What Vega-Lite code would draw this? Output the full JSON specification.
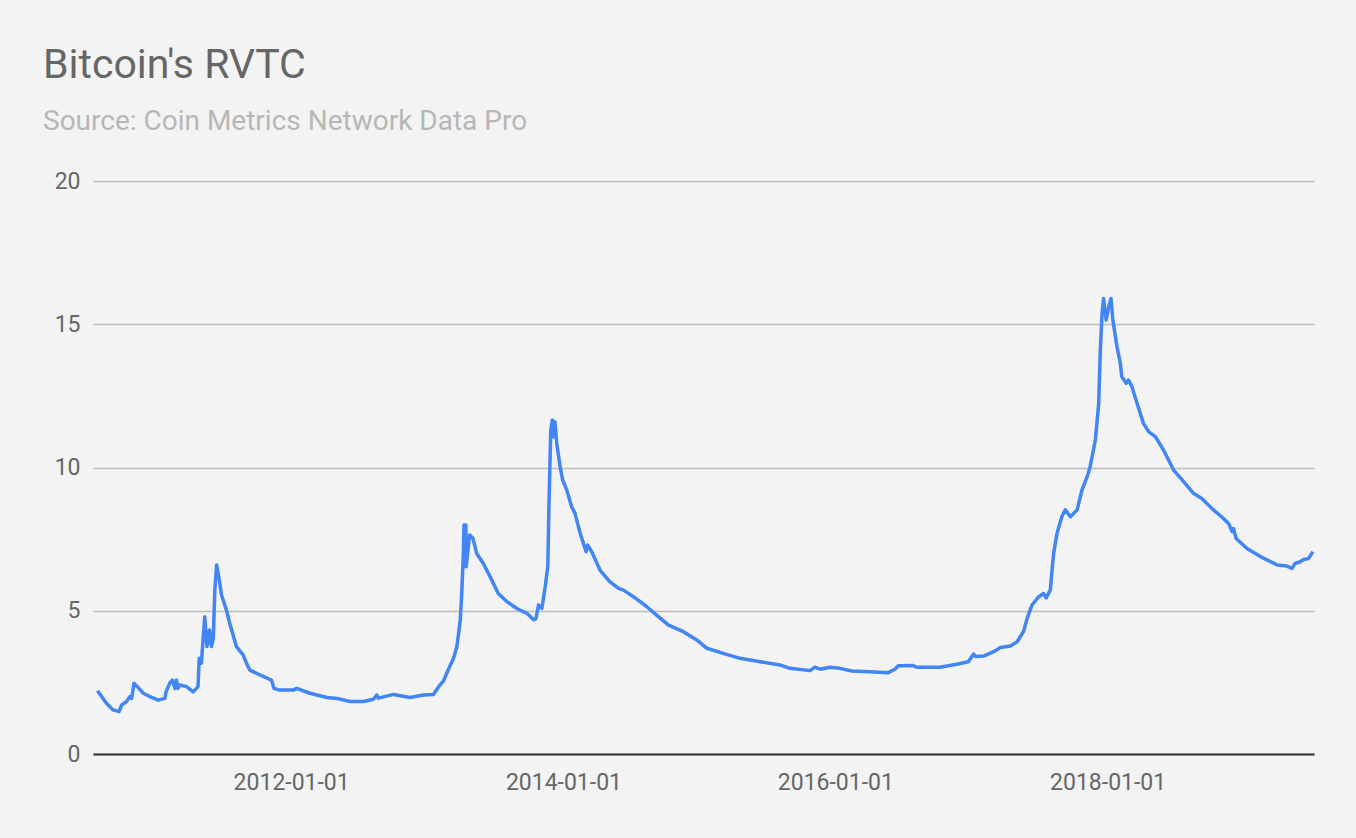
{
  "$schema": "https://vega.github.io/schema/vega-lite/v6.json",
  "autosize": "none",
  "width": 1221,
  "height": 573,
  "padding": {"left": 93, "top": 181, "right": 42, "bottom": 84},
  "background": "#f3f3f3",
  "config": {
    "view": {"stroke": null},
    "font": "Roboto"
  },
  "title": {
    "text": "Bitcoin's RVTC",
    "subtitle": "Source: Coin Metrics Network Data Pro",
    "anchor": "start",
    "frame": "group",
    "dx": -50,
    "offset": 33,
    "font": "Roboto",
    "fontSize": 41,
    "fontWeight": "normal",
    "color": "#666666",
    "subtitleFont": "Roboto",
    "subtitleFontSize": 28,
    "subtitleColor": "#b7b7b7",
    "subtitlePadding": 21
  },
  "data": {
    "values": [
      {"date": "2010-07-30", "rvtc": 2.21},
      {"date": "2010-08-23", "rvtc": 1.77},
      {"date": "2010-09-10", "rvtc": 1.54},
      {"date": "2010-09-26", "rvtc": 1.48},
      {"date": "2010-10-03", "rvtc": 1.71},
      {"date": "2010-10-16", "rvtc": 1.83},
      {"date": "2010-10-25", "rvtc": 2.0},
      {"date": "2010-10-30", "rvtc": 1.94},
      {"date": "2010-11-05", "rvtc": 2.47},
      {"date": "2010-11-14", "rvtc": 2.35},
      {"date": "2010-11-30", "rvtc": 2.12},
      {"date": "2010-12-18", "rvtc": 2.0},
      {"date": "2011-01-09", "rvtc": 1.88},
      {"date": "2011-01-27", "rvtc": 1.94},
      {"date": "2011-01-30", "rvtc": 2.17},
      {"date": "2011-02-09", "rvtc": 2.47},
      {"date": "2011-02-16", "rvtc": 2.58},
      {"date": "2011-02-23", "rvtc": 2.29},
      {"date": "2011-02-27", "rvtc": 2.58},
      {"date": "2011-03-03", "rvtc": 2.29},
      {"date": "2011-03-08", "rvtc": 2.41},
      {"date": "2011-03-26", "rvtc": 2.35},
      {"date": "2011-04-13", "rvtc": 2.17},
      {"date": "2011-04-26", "rvtc": 2.35},
      {"date": "2011-04-29", "rvtc": 3.34},
      {"date": "2011-05-05", "rvtc": 3.17},
      {"date": "2011-05-14", "rvtc": 4.79},
      {"date": "2011-05-20", "rvtc": 3.75},
      {"date": "2011-05-27", "rvtc": 4.33},
      {"date": "2011-06-01", "rvtc": 3.75},
      {"date": "2011-06-06", "rvtc": 4.04},
      {"date": "2011-06-10", "rvtc": 5.72},
      {"date": "2011-06-15", "rvtc": 6.6},
      {"date": "2011-06-22", "rvtc": 6.07},
      {"date": "2011-06-28", "rvtc": 5.55},
      {"date": "2011-07-11", "rvtc": 5.03},
      {"date": "2011-07-20", "rvtc": 4.56},
      {"date": "2011-08-07", "rvtc": 3.75},
      {"date": "2011-08-25", "rvtc": 3.46},
      {"date": "2011-09-03", "rvtc": 3.17},
      {"date": "2011-09-12", "rvtc": 2.93},
      {"date": "2011-10-09", "rvtc": 2.76},
      {"date": "2011-11-09", "rvtc": 2.58},
      {"date": "2011-11-16", "rvtc": 2.29},
      {"date": "2011-12-01", "rvtc": 2.23},
      {"date": "2012-01-07", "rvtc": 2.23},
      {"date": "2012-01-16", "rvtc": 2.29},
      {"date": "2012-02-20", "rvtc": 2.12},
      {"date": "2012-04-06", "rvtc": 1.97},
      {"date": "2012-05-03", "rvtc": 1.94},
      {"date": "2012-06-07", "rvtc": 1.83},
      {"date": "2012-07-13", "rvtc": 1.83},
      {"date": "2012-08-09", "rvtc": 1.91},
      {"date": "2012-08-18", "rvtc": 2.06},
      {"date": "2012-08-22", "rvtc": 1.95},
      {"date": "2012-10-02", "rvtc": 2.08},
      {"date": "2012-11-15", "rvtc": 1.97},
      {"date": "2012-12-21", "rvtc": 2.06},
      {"date": "2013-01-17", "rvtc": 2.08},
      {"date": "2013-01-31", "rvtc": 2.35},
      {"date": "2013-02-13", "rvtc": 2.55},
      {"date": "2013-02-26", "rvtc": 2.95},
      {"date": "2013-03-12", "rvtc": 3.34},
      {"date": "2013-03-21", "rvtc": 3.75},
      {"date": "2013-03-30", "rvtc": 4.68},
      {"date": "2013-04-03", "rvtc": 5.6},
      {"date": "2013-04-07", "rvtc": 6.89},
      {"date": "2013-04-09", "rvtc": 7.99},
      {"date": "2013-04-14", "rvtc": 7.99},
      {"date": "2013-04-15", "rvtc": 6.54},
      {"date": "2013-04-24", "rvtc": 7.64},
      {"date": "2013-05-03", "rvtc": 7.53},
      {"date": "2013-05-13", "rvtc": 7.0},
      {"date": "2013-05-31", "rvtc": 6.65},
      {"date": "2013-06-18", "rvtc": 6.19},
      {"date": "2013-07-10", "rvtc": 5.6},
      {"date": "2013-08-02", "rvtc": 5.32},
      {"date": "2013-08-29", "rvtc": 5.08},
      {"date": "2013-09-25", "rvtc": 4.91},
      {"date": "2013-10-12", "rvtc": 4.69},
      {"date": "2013-10-19", "rvtc": 4.72},
      {"date": "2013-10-26", "rvtc": 5.2},
      {"date": "2013-11-04", "rvtc": 5.08},
      {"date": "2013-11-13", "rvtc": 5.84},
      {"date": "2013-11-20", "rvtc": 6.54},
      {"date": "2013-11-23", "rvtc": 8.63},
      {"date": "2013-11-28", "rvtc": 11.31},
      {"date": "2013-12-02", "rvtc": 11.66},
      {"date": "2013-12-05", "rvtc": 11.07},
      {"date": "2013-12-09", "rvtc": 11.6},
      {"date": "2013-12-14", "rvtc": 10.84},
      {"date": "2013-12-23", "rvtc": 10.03},
      {"date": "2013-12-30", "rvtc": 9.56},
      {"date": "2014-01-10", "rvtc": 9.21},
      {"date": "2014-01-23", "rvtc": 8.63},
      {"date": "2014-02-01", "rvtc": 8.4},
      {"date": "2014-02-15", "rvtc": 7.7},
      {"date": "2014-03-03", "rvtc": 7.06},
      {"date": "2014-03-07", "rvtc": 7.29},
      {"date": "2014-03-18", "rvtc": 7.06},
      {"date": "2014-04-09", "rvtc": 6.42},
      {"date": "2014-05-06", "rvtc": 6.01},
      {"date": "2014-05-29", "rvtc": 5.78},
      {"date": "2014-06-11", "rvtc": 5.72},
      {"date": "2014-07-08", "rvtc": 5.49},
      {"date": "2014-08-13", "rvtc": 5.14},
      {"date": "2014-09-08", "rvtc": 4.85},
      {"date": "2014-10-10", "rvtc": 4.5},
      {"date": "2014-11-19", "rvtc": 4.27},
      {"date": "2014-12-25", "rvtc": 3.98},
      {"date": "2015-01-21", "rvtc": 3.69},
      {"date": "2015-03-06", "rvtc": 3.51},
      {"date": "2015-04-20", "rvtc": 3.34},
      {"date": "2015-06-13", "rvtc": 3.22},
      {"date": "2015-08-05", "rvtc": 3.11},
      {"date": "2015-09-01", "rvtc": 2.99},
      {"date": "2015-10-25", "rvtc": 2.91},
      {"date": "2015-11-07", "rvtc": 3.03},
      {"date": "2015-11-21", "rvtc": 2.96},
      {"date": "2015-12-18", "rvtc": 3.03},
      {"date": "2016-01-13", "rvtc": 2.99},
      {"date": "2016-02-14", "rvtc": 2.9},
      {"date": "2016-04-03", "rvtc": 2.87},
      {"date": "2016-05-22", "rvtc": 2.84},
      {"date": "2016-06-09", "rvtc": 2.96},
      {"date": "2016-06-18", "rvtc": 3.08},
      {"date": "2016-07-28", "rvtc": 3.09},
      {"date": "2016-08-06", "rvtc": 3.03},
      {"date": "2016-10-08", "rvtc": 3.03},
      {"date": "2016-11-22", "rvtc": 3.13},
      {"date": "2016-12-23", "rvtc": 3.22},
      {"date": "2017-01-06", "rvtc": 3.49},
      {"date": "2017-01-11", "rvtc": 3.4},
      {"date": "2017-02-02", "rvtc": 3.42},
      {"date": "2017-03-01", "rvtc": 3.57},
      {"date": "2017-03-19", "rvtc": 3.72},
      {"date": "2017-04-15", "rvtc": 3.77},
      {"date": "2017-05-03", "rvtc": 3.92},
      {"date": "2017-05-20", "rvtc": 4.27},
      {"date": "2017-05-30", "rvtc": 4.74},
      {"date": "2017-06-12", "rvtc": 5.2},
      {"date": "2017-06-30", "rvtc": 5.49},
      {"date": "2017-07-13", "rvtc": 5.6},
      {"date": "2017-07-20", "rvtc": 5.45},
      {"date": "2017-07-31", "rvtc": 5.72},
      {"date": "2017-08-04", "rvtc": 6.3},
      {"date": "2017-08-09", "rvtc": 7.0},
      {"date": "2017-08-18", "rvtc": 7.7},
      {"date": "2017-08-31", "rvtc": 8.28},
      {"date": "2017-09-09", "rvtc": 8.52},
      {"date": "2017-09-23", "rvtc": 8.28},
      {"date": "2017-10-11", "rvtc": 8.52},
      {"date": "2017-10-24", "rvtc": 9.21},
      {"date": "2017-11-07", "rvtc": 9.68},
      {"date": "2017-11-15", "rvtc": 10.03},
      {"date": "2017-11-29", "rvtc": 10.96},
      {"date": "2017-12-08", "rvtc": 12.24},
      {"date": "2017-12-12", "rvtc": 13.98},
      {"date": "2017-12-17", "rvtc": 15.38},
      {"date": "2017-12-21", "rvtc": 15.9},
      {"date": "2017-12-28", "rvtc": 15.15},
      {"date": "2018-01-04", "rvtc": 15.61},
      {"date": "2018-01-10", "rvtc": 15.9},
      {"date": "2018-01-15", "rvtc": 15.15},
      {"date": "2018-01-26", "rvtc": 14.22},
      {"date": "2018-02-04", "rvtc": 13.64},
      {"date": "2018-02-08", "rvtc": 13.17},
      {"date": "2018-02-20", "rvtc": 12.94},
      {"date": "2018-02-26", "rvtc": 13.05},
      {"date": "2018-03-07", "rvtc": 12.83},
      {"date": "2018-03-21", "rvtc": 12.24},
      {"date": "2018-04-07", "rvtc": 11.54},
      {"date": "2018-04-21", "rvtc": 11.25},
      {"date": "2018-05-09", "rvtc": 11.08},
      {"date": "2018-05-31", "rvtc": 10.61},
      {"date": "2018-06-27", "rvtc": 9.91},
      {"date": "2018-07-24", "rvtc": 9.51},
      {"date": "2018-08-20", "rvtc": 9.09},
      {"date": "2018-09-11", "rvtc": 8.92},
      {"date": "2018-10-12", "rvtc": 8.52},
      {"date": "2018-11-08", "rvtc": 8.22},
      {"date": "2018-11-22", "rvtc": 8.04},
      {"date": "2018-12-01", "rvtc": 7.76},
      {"date": "2018-12-05", "rvtc": 7.87},
      {"date": "2018-12-12", "rvtc": 7.52},
      {"date": "2019-01-10", "rvtc": 7.17},
      {"date": "2019-02-15", "rvtc": 6.89},
      {"date": "2019-04-01", "rvtc": 6.6},
      {"date": "2019-04-27", "rvtc": 6.56},
      {"date": "2019-05-11", "rvtc": 6.48},
      {"date": "2019-05-19", "rvtc": 6.65},
      {"date": "2019-06-02", "rvtc": 6.71},
      {"date": "2019-06-11", "rvtc": 6.79},
      {"date": "2019-06-24", "rvtc": 6.82},
      {"date": "2019-07-06", "rvtc": 7.06}
    ]
  },
  "mark": {"type": "line", "color": "#4285f4", "strokeWidth": 3.5, "strokeJoin": "round"},
  "encoding": {
    "x": {
      "field": "date",
      "type": "temporal",
      "title": null,
      "scale": {"type": "utc", "domain": [{"year": 2010, "month": 7, "date": 18, "utc": true}, {"year": 2019, "month": 7, "date": 9, "utc": true}]},
      "axis": {
        "values": [
          {"year": 2012, "month": 1, "date": 1, "utc": true},
          {"year": 2014, "month": 1, "date": 1, "utc": true},
          {"year": 2016, "month": 1, "date": 1, "utc": true},
          {"year": 2018, "month": 1, "date": 1, "utc": true}
        ],
        "labelExpr": "utcFormat(datum.value, '%Y-%m-%d')",
        "grid": false,
        "ticks": false,
        "domain": true,
        "domainColor": "#333333",
        "domainWidth": 2,
        "labelFont": "Roboto",
        "labelFontSize": 23,
        "labelColor": "#666666",
        "labelPadding": 17
      }
    },
    "y": {
      "field": "rvtc",
      "type": "quantitative",
      "title": null,
      "scale": {"domain": [0, 20], "nice": false},
      "axis": {
        "values": [0, 5, 10, 15, 20],
        "grid": true,
        "gridColor": "#bdbdbd",
        "gridWidth": 1.3,
        "ticks": false,
        "domain": false,
        "labelFont": "Roboto",
        "labelFontSize": 23,
        "labelColor": "#666666",
        "labelPadding": 13
      }
    }
  }
}
